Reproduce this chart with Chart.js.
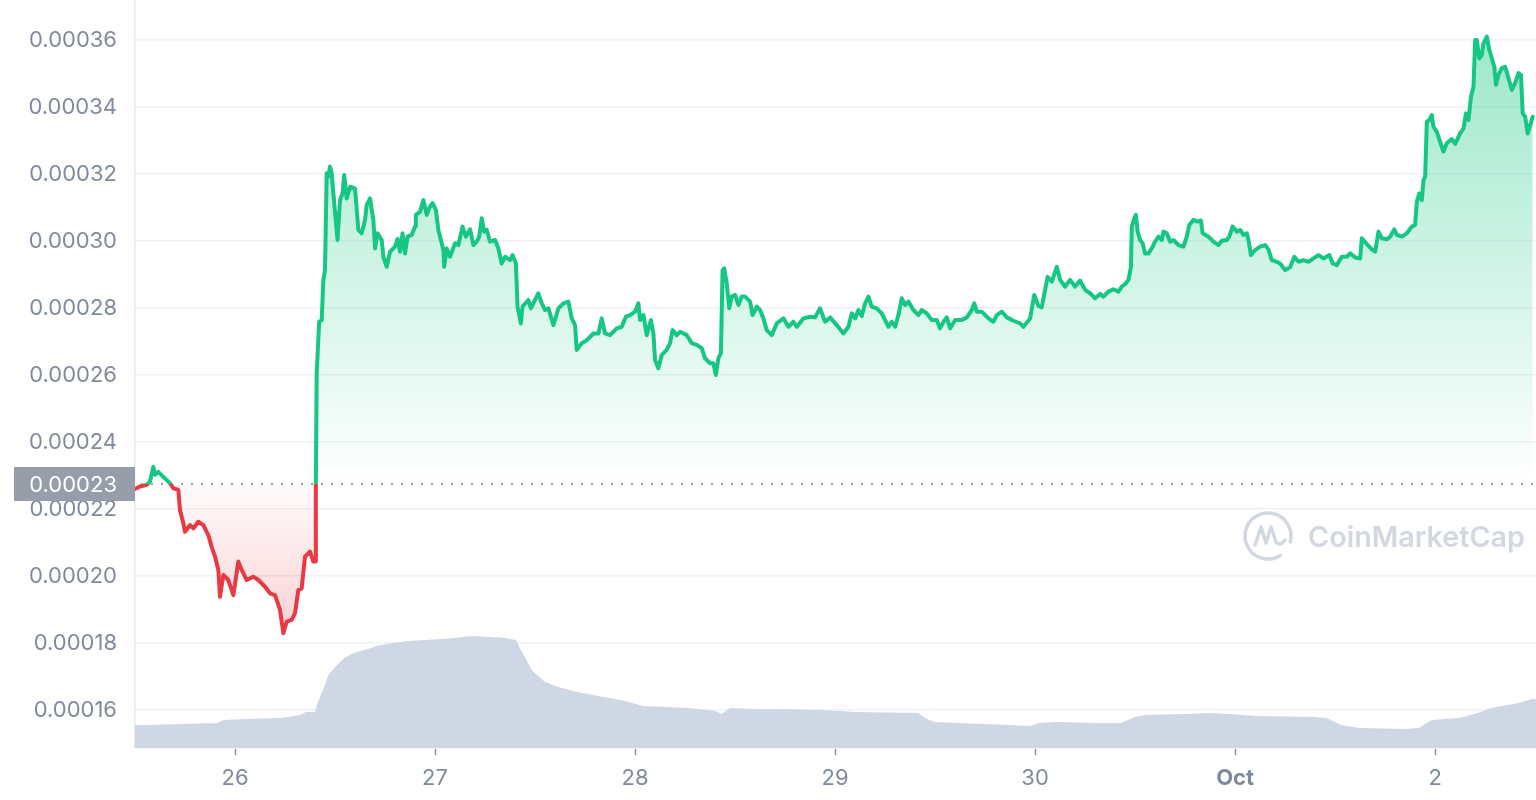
<!DOCTYPE html>
<html>
<head>
<meta charset="utf-8">
<title>Price chart</title>
<script src="https://cdn.jsdelivr.net/npm/chart.js@4.4.1/dist/chart.umd.min.js"></script>
<style>
  html, body { margin: 0; padding: 0; background: #fff; }
  #wrap { width: 1536px; height: 800px; }
</style>
</head>
<body>
<div id="wrap"><canvas id="priceChart" width="1536" height="800"></canvas></div>
<script>
// ========== Data ==========
// time = hours since Sep 25 12:00, price in units of 1e-6 USD
const priceHours = [
  0, 0.6, 1.4, 1.8, 2.2, 2.4, 2.8, 3.4, 4.2, 4.6,
  5.2, 5.4, 5.8, 6.0, 6.6, 7.0, 7.6, 8.2, 8.8, 9.2,
  9.6, 10.0, 10.2, 10.6, 11.2, 11.8, 12.4, 12.8, 13.4, 14.2,
  14.8, 15.6, 16.2, 16.8, 17.4, 17.8, 18.2, 18.8, 19.2, 19.6,
  20.0, 20.4, 21.0, 21.4, 21.6,
  21.7, 21.8, 22.1, 22.4, 22.6, 22.8, 23.0, 23.2, 23.4, 23.6,
  23.8, 24.0, 24.3, 24.6, 24.9, 25.1, 25.4, 25.8, 26.4, 26.8,
  27.2, 27.6, 27.8, 28.2, 28.6, 28.8, 29.1, 29.6, 29.8, 30.2,
  30.6, 31.2, 31.5, 31.8, 32.1, 32.4, 32.7, 33.2, 33.6, 33.7,
  34.2, 34.6, 35.0, 35.3, 35.7, 36.1, 36.4, 36.7, 37.0, 37.1,
  37.4, 37.8, 38.4, 38.8, 39.3, 39.7, 40.2, 40.6, 41.0, 41.3,
  41.6, 41.9, 42.2, 42.6, 43.2, 43.6, 44.0, 44.4, 45.0, 45.3,
  45.7, 45.9, 46.3, 46.5, 47.2, 47.5, 48.0, 48.4, 48.8, 49.2,
  49.6, 50.2, 50.8, 51.4, 52.0, 52.4, 52.8, 53.0, 53.6, 54.2,
  55.0, 55.6, 56.0, 56.4, 57.0, 57.8, 58.4, 58.9, 59.4, 60.0,
  60.4, 60.6, 61.0, 61.4, 61.9, 62.2, 62.4, 62.8, 63.2, 63.8,
  64.2, 64.5, 65.0, 65.4, 66.2, 66.8, 67.4, 68.0, 68.4, 69.0,
  69.4, 69.7, 70.0, 70.3, 70.5, 70.7, 71.0, 71.3, 71.6, 72.0,
  72.4, 72.8, 73.2, 73.8, 74.1, 74.6, 75.0, 75.4, 75.8, 76.4,
  77.0, 77.8, 78.4, 79.0,
  79.4, 80.2, 81.0, 81.6, 82.2, 82.8, 83.4, 84.2, 85.0, 85.6,
  86.0, 86.4, 86.8, 87.2, 87.6, 88.0, 88.4, 89.0, 89.6, 90.4,
  90.8, 91.2, 91.6, 92.0, 92.4, 92.8, 93.4, 94.0, 94.4, 95.0,
  95.6, 96.2, 96.6, 97.0, 97.4, 97.8, 98.4, 99.2, 99.8, 100.4,
  100.7, 101.0, 101.6, 102.4, 103.0, 103.4, 104.0, 104.6, 105.4, 106.2,
  106.6, 107.4, 107.9, 108.4, 108.8, 109.2, 109.5, 110.0, 110.6, 111.0,
  111.6, 112.2, 112.8, 113.4, 114.0, 114.6, 115.2, 115.8, 116.2, 116.8,
  117.4, 118.0, 118.4, 118.8, 119.2, 119.5, 119.6, 119.9, 120.1, 120.3,
  120.6, 120.9, 121.2, 121.6, 122.0, 122.4, 122.8, 123.2, 123.4, 123.8,
  124.2, 124.6, 125.2, 125.8, 126.2, 126.5, 127.0, 127.4, 127.9, 128.1,
  128.8, 129.4, 130.0, 130.4, 131.0, 131.3, 131.7, 132.2, 132.6, 133.0,
  133.4, 133.6, 133.9, 134.4, 135.0, 135.6, 136.0, 136.4, 137.0, 137.4,
  138.0, 138.6, 139.1,
  139.6, 140.2, 140.8, 141.4, 142.0, 142.6, 143.3, 143.7, 144.2, 144.8,
  145.4, 145.8, 146.4, 147.0, 147.2, 147.8, 148.4, 148.8, 149.2, 149.6,
  150.2, 150.6, 151.1, 151.4, 152.0, 152.6, 153.2, 153.6, 153.8, 154.1,
  154.4, 154.6, 154.8, 155.0, 155.3, 155.6, 155.8, 156.2, 156.6, 157.0,
  157.4, 158.0, 158.4, 159.0, 159.4, 159.7, 160.0, 160.3, 160.6, 160.8,
  161.0, 161.3, 161.6, 161.8, 162.2, 162.5, 162.8, 163.1, 163.3, 163.6,
  164.0, 164.4, 164.8, 165.2, 165.6, 166.0, 166.3, 166.5, 166.8, 167.1,
  167.4, 167.7
];

const priceValues = [
  226.0, 226.7, 227.2, 228.2, 232.6, 230.2, 231.1, 229.6, 227.7, 226.2,
  225.7, 219.7, 215.7, 213.2, 215.2, 214.2, 216.2, 215.2, 212.2, 208.7,
  205.8, 201.8, 193.8, 200.3, 198.8, 194.3, 204.3, 201.8, 198.8, 199.8,
  198.8, 196.8, 194.8, 194.3, 189.9, 182.9, 186.4, 186.9, 188.9, 195.8,
  196.3, 205.8, 207.3, 204.3, 204.3,
  226.7, 260.6, 275.9, 276.4, 288.4, 291.3, 320.2, 319.2, 322.2, 320.2,
  314.2, 308.7, 300.3, 312.2, 314.2, 319.7, 312.7, 316.2, 315.7, 303.3,
  302.3, 306.3, 310.7, 312.7, 306.3, 297.8, 302.3, 300.3, 295.3, 292.3,
  296.8, 298.3, 300.6, 296.8, 302.3, 296.3, 301.3, 301.8, 304.3, 307.8,
  308.7, 312.2, 307.8, 309.8, 311.3, 309.3, 303.3, 300.3, 297.3, 292.3,
  297.8, 295.3, 299.3, 298.8, 304.3, 301.3, 303.5, 298.8, 299.8, 301.3,
  306.8, 302.8, 303.3, 299.8, 300.3, 297.8, 293.3, 295.3, 294.3, 295.8,
  293.3, 280.4, 275.4, 280.4, 282.4, 279.9, 282.4, 284.4, 281.4, 279.4,
  279.9, 274.9, 279.9, 281.4, 281.9, 276.9, 274.9, 267.5, 269.5, 270.4,
  272.4, 272.4, 276.9, 272.4, 271.9, 273.9, 274.4, 277.4, 277.9, 278.9,
  281.4, 276.4, 277.9, 271.9, 276.4, 272.4, 264.5, 262.0, 266.0, 267.5,
  269.5, 273.4, 271.9, 272.9, 271.9, 269.5, 269.0, 268.0, 265.0, 263.5,
  263.5, 260.0, 265.0, 266.5, 291.3, 291.8, 287.4, 279.9, 283.4, 283.9,
  280.9, 283.4, 283.4, 281.9, 277.9, 280.4, 279.4, 276.9, 273.4, 271.9,
  275.4, 276.9, 274.4, 275.9,
  274.4, 276.9, 277.4, 277.2, 279.9, 275.9, 277.2, 274.9, 272.4, 274.4,
  278.4, 276.9, 279.4, 277.6, 281.4, 283.4, 280.4, 279.9, 278.4, 274.4,
  275.9, 274.4, 277.9, 282.9, 280.9, 281.9, 279.4, 277.9, 279.4, 278.4,
  276.4, 276.4, 273.9, 275.9, 277.2, 273.9, 276.4, 276.4, 277.2, 279.4,
  281.4, 278.9, 278.9, 276.9, 275.9, 277.9, 278.9, 277.2, 276.2, 275.4,
  274.4, 276.9, 283.9, 280.6, 280.2, 285.4, 289.3, 287.9, 292.3, 288.4,
  286.4, 288.4, 286.4, 288.2, 285.4, 284.4, 282.9, 284.2, 283.4, 284.9,
  285.6, 284.9, 286.4, 287.1, 288.4, 292.3, 304.3, 306.8, 307.8, 302.8,
  300.3, 299.3, 296.3, 296.3, 297.8, 299.8, 301.3, 300.3, 302.8, 302.3,
  299.8, 300.3, 298.8, 298.3, 301.3, 304.8, 306.3, 305.8, 306.1, 302.3,
  301.3, 299.8, 298.8, 300.1, 300.3, 301.3, 304.3, 302.8, 303.3, 301.8,
  302.3, 300.3, 295.8, 297.3, 298.3, 298.8, 297.5, 294.3, 293.8, 293.3,
  291.3, 292.2, 295.3,
  293.8, 294.3, 293.8, 294.8, 295.8, 294.8, 295.8, 293.3, 292.8, 295.3,
  295.3, 296.3, 295.1, 294.8, 300.8, 299.1, 297.5, 296.8, 302.8, 300.8,
  300.5, 301.3, 303.5, 301.8, 301.3, 302.3, 304.3, 304.8, 311.7, 314.2,
  312.2, 318.2, 319.2, 335.6, 336.1, 337.6, 334.1, 332.6, 329.6, 326.7,
  329.2, 330.4, 329.0, 332.1, 333.6, 338.1, 336.1, 343.1, 346.1, 360.0,
  360.0, 354.5, 355.5, 359.0, 361.0, 357.0, 354.5, 352.0, 346.6, 349.6,
  351.6, 352.0, 348.6, 345.1, 347.1, 350.1, 349.6, 338.1, 337.1, 332.1,
  334.6, 337.1
];

// 24h volume, relative units
const volumeHours = [
  0, 1.6, 5.8, 9.8, 10.7, 13.3, 17.6, 19.8, 20.5, 21.6,
  21.9, 22.2, 22.7, 23.2, 24.0, 25.1, 26.2, 28.3, 29.4, 32.6,
  36.9, 40.7, 44.4, 45.7, 46.3, 47.1, 47.6, 49.2, 50.8, 53.0,
  56.2, 58.3, 61.0, 66.4, 69.6, 70.4, 71.4, 74.4, 77.1, 82.2,
  86.6, 94.0, 94.8, 95.9, 98.6, 101.9, 107.4, 108.5, 110.7, 115.1,
  118.3, 120.0, 121.1, 126.0, 129.3, 134.8, 141.4, 143.0, 144.7, 146.9,
  152.3, 154.0, 155.6, 158.9, 161.1, 162.7, 166.0, 167.6, 168.1
];
const volumeValues = [
  23, 23, 24, 25, 28, 29, 30, 33, 36, 36,
  45, 51, 61, 73, 81, 90, 95, 100, 103, 107,
  109, 112, 110, 108, 98, 86, 78, 66, 61, 56,
  51, 48, 42, 40, 37, 34, 40, 39, 39, 38,
  36, 35, 30, 26, 25, 24, 22, 25, 26, 25,
  25, 31, 33, 34, 35, 32, 31, 30, 23, 20,
  19, 20, 28, 30, 35, 40, 45, 49, 49
];

const yTicks = [160, 180, 200, 220, 240, 260, 280, 300, 320, 340, 360];
const xTickHours = [12, 36, 60, 84, 108, 132, 156];
const xTickLabels = ['26', '27', '28', '29', '30', 'Oct', '2'];

const BASELINE = 227.5;
const BASELINE_LABEL = '0.00023';
const UNIT = 1e-6;

// ========== Styles ==========
const UP = '#16c784';
const DOWN = '#ea3943';
const AXIS_TEXT = '#808a9d';
const GRID = '#eff2f5';
const VOLUME = '#cfd6e4';

Chart.defaults.font.family = 'Inter, "Noto Sans", sans-serif';

/**
 * Where the baseline sits inside the chart area (0 = top, 1 = bottom)
 */
function baselineFraction(chart) {
  const { chartArea, scales } = chart;
  const y = scales.y.getPixelForValue(BASELINE);
  const f = (y - chartArea.top) / (chartArea.bottom - chartArea.top);
  return Math.min(Math.max(f, 0), 1);
}

function strokeColor(context) {
  const chart = context.chart;
  const { ctx, chartArea } = chart;
  if (!chartArea) return UP;
  const f = baselineFraction(chart);
  const g = ctx.createLinearGradient(0, chartArea.top, 0, chartArea.bottom);
  g.addColorStop(0, UP);
  g.addColorStop(f, UP);
  g.addColorStop(f, DOWN);
  g.addColorStop(1, DOWN);
  return g;
}

function fillColor(context) {
  const chart = context.chart;
  const { ctx, chartArea } = chart;
  if (!chartArea) return 'rgba(22,199,132,0.2)';
  const f = baselineFraction(chart);
  const g = ctx.createLinearGradient(0, chartArea.top, 0, chartArea.bottom);
  g.addColorStop(0, 'rgba(22,199,132,0.45)');
  g.addColorStop(f, 'rgba(22,199,132,0.0)');
  g.addColorStop(f, 'rgba(234,57,67,0.02)');
  g.addColorStop(1, 'rgba(234,57,67,0.38)');
  return g;
}

// ========== Overlay plugin ==========
const overlayPlugin = {
  id: 'overlay',
  beforeDatasetsDraw(chart) {
    const { ctx, chartArea, scales } = chart;
    const y = Math.round(scales.y.getPixelForValue(BASELINE));

    // watermark
    ctx.save();
    const wmColor = '#d3d8e0';
    const cx = chartArea.right - 268, cy = 536, r = 23;
    ctx.strokeStyle = wmColor;
    ctx.lineWidth = 3.5;
    ctx.lineCap = 'round';
    ctx.lineJoin = 'round';
    ctx.beginPath();
    ctx.arc(cx, cy, r, 0.32 * Math.PI, 2.08 * Math.PI);
    ctx.stroke();
    ctx.beginPath();
    ctx.moveTo(cx - 13, cy + 9);
    ctx.lineTo(cx - 7, cy - 9);
    ctx.lineTo(cx - 2, cy + 7);
    ctx.lineTo(cx + 3, cy - 9);
    ctx.lineTo(cx + 8, cy + 6);
    ctx.quadraticCurveTo(cx + 12, cy + 11, cx + 17, cy + 4);
    ctx.stroke();
    ctx.fillStyle = wmColor;
    let size = 28;
    ctx.font = `600 ${size}px Inter, sans-serif`;
    const w = ctx.measureText('CoinMarketCap').width;
    size = size * 217 / w;
    ctx.font = `600 ${size}px Inter, sans-serif`;
    ctx.textBaseline = 'middle';
    ctx.textAlign = 'left';
    ctx.fillText('CoinMarketCap', chartArea.right - 228, cy + 2);
    ctx.restore();

    // dotted baseline
    ctx.save();
    ctx.strokeStyle = '#9aa1ad';
    ctx.lineWidth = 2;
    ctx.setLineDash([2, 8]);
    ctx.beginPath();
    ctx.moveTo(chartArea.left + 6, y);
    ctx.lineTo(chartArea.right, y);
    ctx.stroke();
    ctx.restore();
  },
  afterDraw(chart) {
    const { ctx, chartArea, scales } = chart;
    const y = Math.round(scales.y.getPixelForValue(BASELINE));
    ctx.save();
    ctx.fillStyle = '#989ea9';
    ctx.fillRect(14, y - 17, chartArea.left - 14, 34);
    ctx.fillStyle = '#ffffff';
    ctx.font = '22px Inter, sans-serif';
    ctx.textAlign = 'right';
    ctx.textBaseline = 'middle';
    ctx.fillText(BASELINE_LABEL, chartArea.left - 18, y + 1);
    ctx.restore();
  }
};

// ========== Chart ==========
const priceData = priceHours.map((h, i) => ({ x: h, y: priceValues[i] }));
const volumeData = volumeHours.map((h, i) => ({ x: h, y: volumeValues[i] }));

new Chart(document.getElementById('priceChart'), {
  type: 'line',
  data: {
    datasets: [
      {
        label: 'Price',
        data: priceData,
        yAxisID: 'y',
        borderColor: strokeColor,
        backgroundColor: fillColor,
        borderWidth: 4,
        borderJoinStyle: 'round',
        borderCapStyle: 'round',
        pointRadius: 0,
        tension: 0,
        fill: { target: { value: BASELINE } },
        order: 0
      },
      {
        label: 'Volume',
        data: volumeData,
        yAxisID: 'yv',
        borderWidth: 0,
        borderColor: VOLUME,
        backgroundColor: VOLUME,
        pointRadius: 0,
        tension: 0,
        fill: 'origin',
        order: 1
      }
    ]
  },
  options: {
    responsive: false,
    animation: false,
    layout: { padding: 0 },
    plugins: {
      legend: { display: false },
      tooltip: { enabled: false }
    },
    scales: {
      x: {
        type: 'linear',
        min: 0,
        max: 168.1,
        afterBuildTicks: (scale) => { scale.ticks = xTickHours.map(v => ({ value: v })); },
        afterFit: (scale) => { scale.height = 52; scale.paddingLeft = 0; scale.paddingRight = 0; },
        grid: {
          drawOnChartArea: false,
          drawTicks: true,
          tickLength: 7,
          tickWidth: 1.5,
          tickColor: '#8b94a5'
        },
        border: { display: true, color: GRID, width: 1.5 },
        ticks: {
          autoSkip: false,
          maxRotation: 0,
          padding: 10,
          color: AXIS_TEXT,
          font: (ctx) => ({ size: 22, weight: ctx.index === 5 ? 'bold' : 'normal' }),
          callback: (v, i) => xTickLabels[i]
        }
      },
      y: {
        position: 'left',
        min: 148.66,
        max: 371.94,
        afterBuildTicks: (scale) => { scale.ticks = yTicks.map(v => ({ value: v })); },
        afterFit: (scale) => { scale.width = 135; scale.paddingTop = 0; scale.paddingBottom = 0; },
        grid: { color: GRID, lineWidth: 1.5, drawTicks: false },
        border: { display: true, color: '#e6e9ee', width: 1.5 },
        ticks: {
          padding: 18,
          color: AXIS_TEXT,
          font: { size: 22 },
          callback: (v) => (v * UNIT).toFixed(5)
        }
      },
      yv: {
        display: false,
        min: 0,
        max: 748
      }
    }
  },
  plugins: [overlayPlugin]
});
</script>
</body>
</html>
